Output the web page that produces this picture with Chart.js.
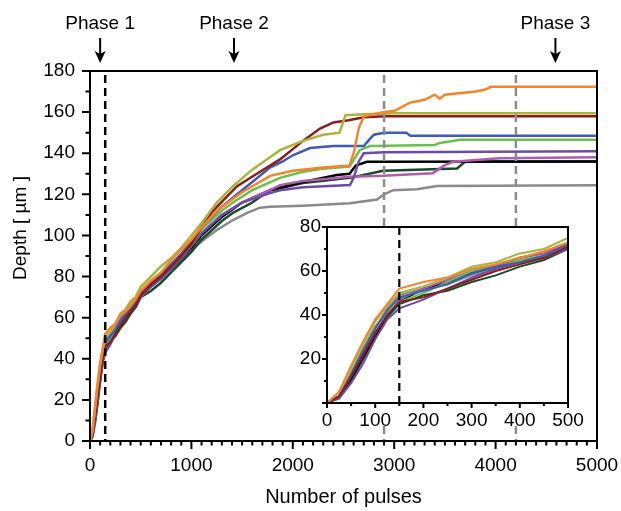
<!DOCTYPE html>
<html>
<head>
<meta charset="utf-8">
<script src="https://cdn.jsdelivr.net/npm/chart.js@4/dist/chart.umd.min.js"></script>
<style>
  html, body { margin: 0; padding: 0; background: #fff; }
  #wrap { position: relative; width: 621px; height: 511px; }
  #main { position: absolute; left: 0; top: 0; }
  #inset { position: absolute; left: 290px; top: 214px; }
</style>
</head>
<body>
<div id="wrap">
  <canvas id="main" width="621" height="511"></canvas>
  <canvas id="inset" width="300" height="215"></canvas>
</div>
<script>
// depth traces, [pulses, depth in um]
const orange = [[0,0],[25,5],[50,17],[75,28],[100,38],[125,45],[150,52],[200,55],[250,57],[300,61],[350,63],[400,66],[450,69],[500,73],[600,78],[700,82],[800,88],[900,93],[1000,98],[1100,104],[1250,112],[1500,121],[1775,129],[2000,131.5],[2300,133],[2560,134],[2600,140],[2650,152],[2700,158],[2900,160],[3000,160.5],[3150,164.5],[3300,166],[3400,168.5],[3450,166.5],[3500,168.5],[3800,170],[3900,171],[3950,172.3],[5000,172.3]];
const olive = [[0,0],[25,5],[50,16],[75,27],[100,37],[125,44],[150,50],[200,53],[250,57],[300,62],[350,64],[400,68],[450,70],[500,75],[600,80],[700,85],[800,89],[900,94],[1000,100],[1100,106],[1250,116],[1410,124],[1600,132],[1775,138],[1874,141.5],[2000,144],[2100,146],[2300,149],[2460,150],[2520,158.5],[2700,159],[3000,159.5],[5000,159.5]];
const darkRed = [[0,0],[25,3],[50,12],[75,22],[100,32],[125,40],[150,46],[200,48],[250,52],[300,56],[350,60],[400,63],[450,66],[500,71],[600,76],[700,80],[800,85],[900,90],[1000,96],[1100,104],[1213,112],[1450,124],[1677,131],[1874,137],[2000,142],[2100,146],[2268,152],[2400,155],[2550,156],[2700,157.5],[2900,158],[5000,158]];
const blue = [[0,0],[25,3],[50,13],[75,24],[100,34],[125,42],[150,48],[200,51],[250,54],[300,59],[350,62],[400,64],[450,67],[500,72],[600,77],[700,81],[800,86],[900,91],[1000,97],[1100,104],[1300,114],[1500,122],[1775,133],[1900,136],[2000,139],[2170,142.5],[2400,143.5],[2700,143.5],[2760,147],[2800,149],[2900,150],[3120,150],[3160,148.5],[5000,148.5]];
const green = [[0,0],[25,3],[50,14],[75,25],[100,35],[125,41],[150,46],[200,50],[250,55],[300,60],[350,62],[400,65],[450,67],[500,72],[600,77],[700,81],[800,85],[900,90],[1000,96],[1100,103],[1300,112],[1410,116],[1600,122],[1874,128],[2100,131],[2300,132.5],[2560,133.5],[2660,141.5],[2760,143.5],[3400,144],[3450,145],[3650,146.5],[5000,146.5]];
const purple = [[0,0],[25,2],[50,9],[75,18],[100,29],[125,38],[150,43],[200,47],[250,52],[300,57],[350,61],[400,64],[450,66],[500,70],[600,75],[700,79],[800,84],[900,89],[1000,95],[1100,101],[1300,110],[1500,116],[1775,120.6],[1874,122],[2100,123.5],[2564,124.5],[2600,128],[2650,136],[2700,140],[2900,140.5],[5000,141]];
const magenta = [[0,0],[25,3],[50,12],[75,22],[100,32],[125,40],[150,47],[200,52],[250,56],[300,60],[350,63],[400,66],[450,68],[500,73],[600,76],[700,80],[800,85],[900,89],[1000,95],[1100,101],[1300,110],[1500,116],[1775,122],[1874,124.5],[2100,126.5],[2564,128.6],[2890,129],[3380,130.3],[3500,134.2],[3580,135.8],[4040,137.5],[5000,138]];
const black = [[0,0],[25,3],[50,11],[75,21],[100,30],[125,40],[150,46],[200,52],[250,55],[300,59],[350,62],[400,66],[450,68],[500,72],[600,76],[700,80],[800,84],[900,89],[1000,94],[1100,100],[1300,109],[1500,116],[1775,122],[2100,126],[2435,129.4],[2560,130],[2620,134],[2730,135.8],[5000,136]];
const darkGreen = [[0,0],[25,3],[50,10],[75,20],[100,30],[125,39],[150,45],[200,49],[250,51],[300,55],[350,58],[400,62],[450,65],[500,70],[600,73],[700,77],[800,82],[900,87],[1000,92],[1100,98],[1300,107],[1410,111],[1600,116],[1775,122],[1874,123],[2100,125.5],[2564,128],[2890,131.5],[3620,132.6],[3700,136],[5000,136]];
const gray = [[0,0],[25,3],[50,13],[75,24],[100,34],[125,43],[150,49],[200,52],[250,54],[300,58],[350,61],[400,64],[450,67],[500,71],[600,75],[700,79],[800,84],[900,88],[1000,93],[1100,97],[1250,102.6],[1410,107.5],[1550,111],[1677,113.5],[1775,114],[2100,114.5],[2564,115.7],[2830,117.5],[2900,120],[2990,122],[3225,122.5],[3420,124],[5000,124.4]];

const traces = [orange, olive, darkRed, blue, green, purple, magenta, black, darkGreen, gray];
const colors = ['#f7842a', '#a9b43c', '#8a1c1c', '#3d5cb8', '#6cc04a', '#6a4ca8', '#b05ab0', '#000000', '#17492a', '#8a8a8a'];

const phaseNames = ['Phase 1', 'Phase 2', 'Phase 3'];
const phasePulses = [100, 1420, 4590];
const onsetLine = 150;          // black dashed, main and inset
const grayLines = [2900, 4200]; // grey dashed, main only

const FONT = "'Liberation Sans', Arial, sans-serif";

function makeSets(maxX, width) {
    return traces.map((t, i) => ({
        data: t.filter(p => p[0] <= maxX).map(p => ({ x: p[0], y: p[1] })),
        borderColor: colors[i],
        borderWidth: width,
        pointRadius: 0,
        tension: 0,
        fill: false
    }));
}

function dashedV(ctx, x, top, bottom, color, width) {
    ctx.save();
    ctx.strokeStyle = color;
    ctx.lineWidth = width;
    ctx.setLineDash([8, 5]);
    ctx.beginPath();
    ctx.moveTo(x, top);
    ctx.lineTo(x, bottom);
    ctx.stroke();
    ctx.restore();
}

function drawTicks(ctx, a, x, y, xMinor, xMajor, yMinor, yMajor, big, small) {
    ctx.strokeStyle = '#000';
    ctx.lineWidth = 2;
    ctx.beginPath();
    for (let v = x.min; v <= x.max + 0.001; v += xMinor) {
        const px = x.getPixelForValue(v);
        const len = Math.abs(v % xMajor) < 0.001 ? big : small;
        ctx.moveTo(px, a.bottom);
        ctx.lineTo(px, a.bottom + len);
    }
    for (let v = y.min; v <= y.max + 0.001; v += yMinor) {
        const py = y.getPixelForValue(v);
        const len = Math.abs(v % yMajor) < 0.001 ? big : small;
        ctx.moveTo(a.left, py);
        ctx.lineTo(a.left - len, py);
    }
    ctx.stroke();
    ctx.strokeRect(a.left, a.top, a.right - a.left, a.bottom - a.top);
}

const mainDecor = {
    id: 'mainDecor',
    afterDatasetsDraw(chart) {
        const { ctx, chartArea: a, scales: { x, y } } = chart;
        ctx.save();
        grayLines.forEach(v => dashedV(ctx, x.getPixelForValue(v), a.top + 4, a.bottom, '#8c8c8c', 2.5));
        dashedV(ctx, x.getPixelForValue(onsetLine), a.top + 4, a.bottom, '#000', 2.5);
        drawTicks(ctx, a, x, y, 100, 1000, 10, 20, 8, 4.5);

        // phase labels with arrows
        ctx.fillStyle = '#000';
        ctx.font = '19px ' + FONT;
        ctx.textAlign = 'center';
        ctx.textBaseline = 'middle';
        phaseNames.forEach((name, i) => {
            const px = x.getPixelForValue(phasePulses[i]);
            ctx.fillText(name, px, 24);
            ctx.lineWidth = 2;
            ctx.beginPath();
            ctx.moveTo(px, 38);
            ctx.lineTo(px, 56);
            ctx.stroke();
            ctx.beginPath();
            ctx.moveTo(px, 63);
            ctx.lineTo(px - 5.5, 51);
            ctx.lineTo(px, 54);
            ctx.lineTo(px + 5.5, 51);
            ctx.closePath();
            ctx.fill();
        });

        // axis titles
        ctx.font = '20px ' + FONT;
        ctx.fillText('Number of pulses', (a.left + a.right) / 2, 497);
        ctx.save();
        ctx.translate(21, 228);
        ctx.rotate(-Math.PI / 2);
        ctx.font = '19px ' + FONT;
        ctx.fillText('Depth [ \u00b5m ]', 0, 0);
        ctx.restore();
        ctx.restore();
    }
};

const insetDecor = {
    id: 'insetDecor',
    beforeDraw(chart) {
        const ctx = chart.ctx;
        ctx.save();
        ctx.fillStyle = '#fff';
        ctx.fillRect(0, 12, chart.width, 195);
        ctx.restore();
    },
    afterDatasetsDraw(chart) {
        const { ctx, chartArea: a, scales: { x, y } } = chart;
        ctx.save();
        dashedV(ctx, x.getPixelForValue(onsetLine), a.top, a.bottom, '#000', 2.2);
        drawTicks(ctx, a, x, y, 50, 100, 10, 20, 5, 3);
        ctx.restore();
    }
};

function axisOpts(min, max, step, pad, fit, cb) {
    return {
        type: 'linear',
        min: min,
        max: max,
        ticks: {
            stepSize: step,
            color: '#000',
            padding: pad,
            maxRotation: 0,
            autoSkip: false,
            font: { family: FONT, size: 19 },
            callback: cb || (v => v)
        },
        grid: { display: false, drawTicks: false },
        border: { display: false },
        afterFit: fit
    };
}

new Chart(document.getElementById('main'), {
    type: 'line',
    data: { datasets: makeSets(Infinity, 2.5) },
    options: {
        responsive: false,
        animation: false,
        layout: { padding: { left: 0, right: 24, top: 71, bottom: 0 } },
        plugins: { legend: { display: false }, tooltip: { enabled: false } },
        scales: {
            x: axisOpts(0, 5000, 1000, 13, s => { s.height = 70; s.paddingLeft = 0; s.paddingRight = 0; }),
            y: axisOpts(0, 180, 20, 15, s => { s.width = 90; s.paddingTop = 0; s.paddingBottom = 0; })
        }
    },
    plugins: [mainDecor]
});

new Chart(document.getElementById('inset'), {
    type: 'line',
    data: { datasets: makeSets(500, 2) },
    options: {
        responsive: false,
        animation: false,
        layout: { padding: { left: 0, right: 22, top: 13, bottom: 0 } },
        plugins: { legend: { display: false }, tooltip: { enabled: false } },
        scales: {
            x: axisOpts(0, 500, 100, 6, s => { s.height = 26; s.paddingLeft = 0; s.paddingRight = 0; }),
            y: axisOpts(0, 80, 20, 6, s => { s.width = 37; s.paddingTop = 0; s.paddingBottom = 0; }, v => v === 0 ? '' : v)
        }
    },
    plugins: [insetDecor]
});
</script>
</body>
</html>
